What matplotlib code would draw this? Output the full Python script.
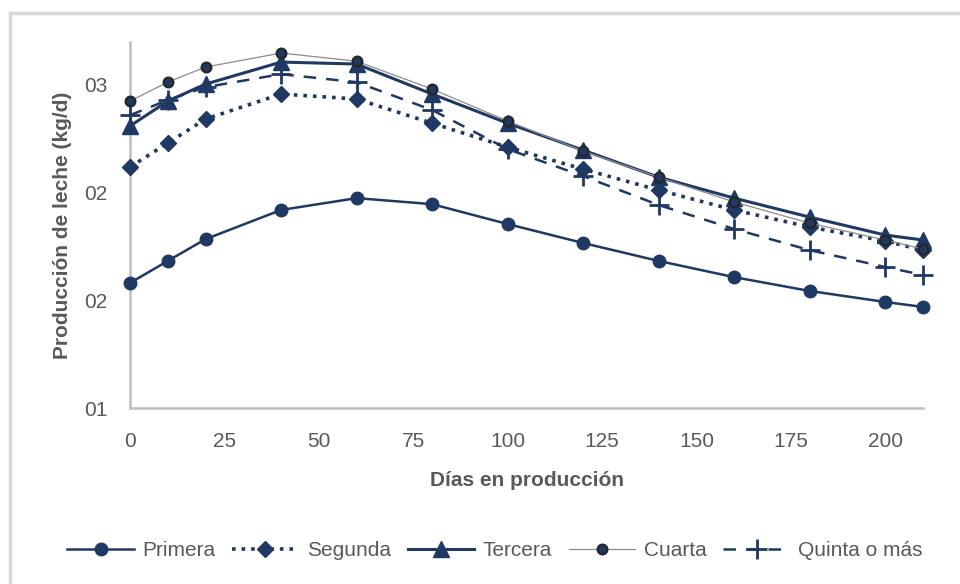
import numpy as np
import matplotlib.pyplot as plt
from matplotlib.patches import Rectangle

plt.rcParams['font.family'] = ['Liberation Sans Narrow', 'Liberation Sans', 'DejaVu Sans']

dias = [0, 10, 20, 40, 60, 80, 100, 120, 140, 160, 180, 200, 210]

primera = [15.79, 16.81, 17.82, 19.17, 19.72, 19.44, 18.52, 17.64, 16.81, 16.06, 15.42, 14.91, 14.68]
segunda = [21.16, 22.27, 23.38, 24.54, 24.31, 23.19, 22.08, 21.06, 20.09, 19.17, 18.38, 17.73, 17.31]
tercera = [23.06, 24.21, 25.00, 26.02, 25.93, 24.54, 23.19, 21.94, 20.69, 19.72, 18.84, 18.01, 17.78]
cuarta = [24.21, 25.09, 25.79, 26.44, 26.06, 24.77, 23.29, 21.90, 20.69, 19.54, 18.56, 17.78, 17.36]
quinta = [23.56, 24.26, 24.86, 25.46, 25.09, 23.80, 21.99, 20.74, 19.40, 18.29, 17.31, 16.53, 16.16]

yticks = [10, 15, 20, 25]
ytick_labels = ['01', '02', '02', '03']
xticks = [0, 25, 50, 75, 100, 125, 150, 175, 200]

navy = '#1f3864'
gris = '#595959'

fig = plt.figure(figsize=(9.6, 5.84), dpi=100, facecolor='w')
ax = fig.add_axes([130/960, 1 - 408/584, 793/960, 366/584])

# outer chart frame (only top and left edges fall inside the image)
fig.patches.append(Rectangle((10/960, -0.2), 1.2, 1.2 - 13/584, transform=fig.transFigure,
                             fill=False, edgecolor='#d9d9d9', linewidth=2.5, zorder=0))

ax.plot(dias, primera, '-', color=navy, lw=1.8, marker='o', ms=9,
        mfc=navy, mec=navy, label='Primera', clip_on=False, zorder=3)
ax.plot(dias, segunda, ':', color=navy, lw=2.6, marker='D', ms=8,
        mfc=navy, mec=navy, label='Segunda', clip_on=False, zorder=3)
ax.plot(dias, tercera, '-', color=navy, lw=2.2, marker='^', ms=11,
        mfc=navy, mec=navy, label='Tercera', clip_on=False, zorder=4)
ax.plot(dias, cuarta, '-', color='#8c8c8c', lw=0.9, marker='o', ms=7,
        mfc=navy, mec='#262626', mew=1.6, label='Cuarta', clip_on=False, zorder=5)
ax.plot(dias, quinta, '--', color=navy, lw=1.8, dashes=(5, 4), marker='+', ms=14,
        mew=2, mfc=navy, mec=navy, label='Quinta o más', clip_on=False, zorder=3)

ax.set_xlim(0, 210)
ax.set_ylim(10, 26.95)
ax.set_xticks(xticks)
ax.set_yticks(yticks)
ax.set_yticklabels(ytick_labels)
ax.tick_params(length=0, labelsize=15, colors=gris)
ax.tick_params(axis='x', pad=17)
ax.tick_params(axis='y', pad=16)

for s in ['top', 'right']:
    ax.spines[s].set_visible(False)
for s in ['left', 'bottom']:
    ax.spines[s].set_color('#bfbfbf')
    ax.spines[s].set_linewidth(1.8)

ax.set_xlabel('Días en producción', fontsize=15, fontweight='bold', color=gris,
              family=['Liberation Sans', 'DejaVu Sans'], labelpad=15)
ax.set_ylabel('Producción de leche (kg/d)', fontsize=15, fontweight='bold', color=gris,
              family=['Liberation Sans', 'DejaVu Sans'], labelpad=9)

leg = ax.legend(loc='center', bbox_to_anchor=(495/960, 1 - 551/584), bbox_transform=fig.transFigure,
                ncol=5, frameon=False, fontsize=15, handlelength=3.2, handletextpad=0.4,
                columnspacing=0.8, labelcolor=gris)

fig.savefig('out.png', dpi=100, facecolor='w')
plt.close(fig)
